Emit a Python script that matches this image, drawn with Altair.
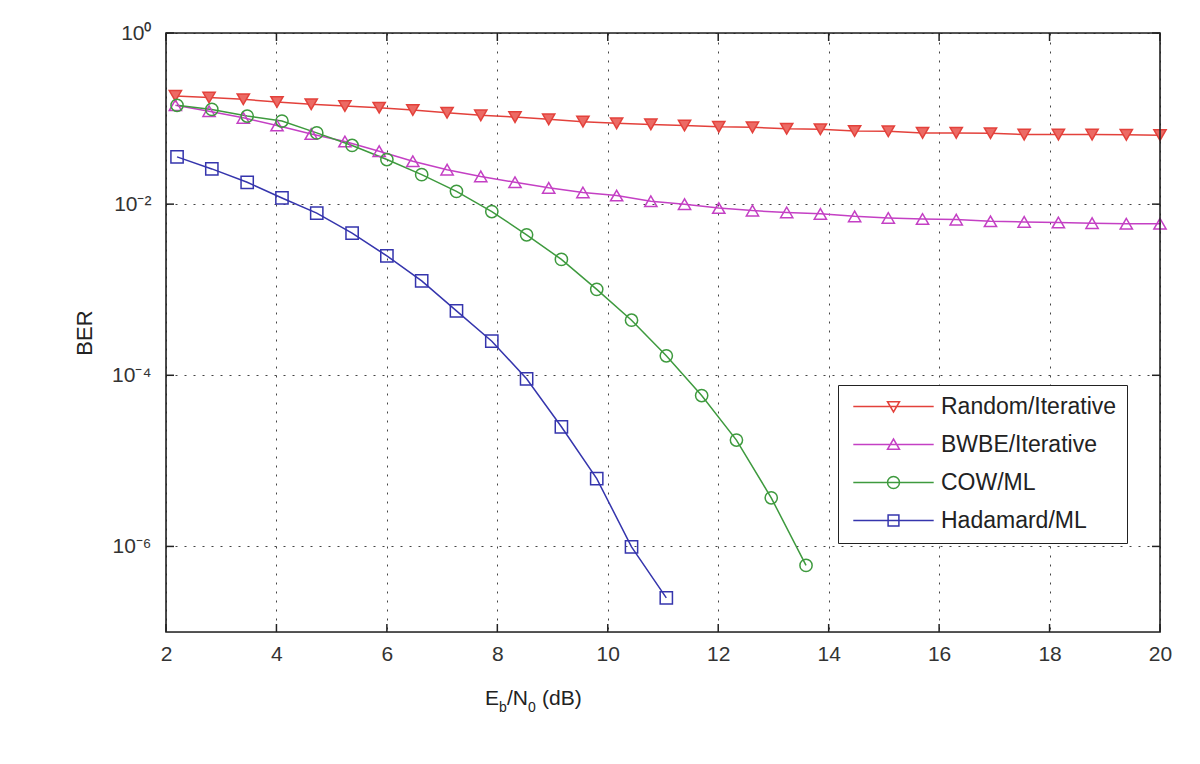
import altair as alt
import pandas as pd

# ---------------- data ----------------
series = ["Random/Iterative", "BWBE/Iterative", "COW/ML", "Hadamard/ML"]

x_iter = [2.17, 2.78, 3.40, 4.01, 4.63, 5.24, 5.86, 6.47, 7.09, 7.70,
          8.32, 8.93, 9.55, 10.16, 10.78, 11.39, 12.01, 12.62, 13.24, 13.85,
          14.47, 15.08, 15.70, 16.31, 16.93, 17.54, 18.16, 18.77, 19.39, 20.00]
random_iter = [0.184, 0.176, 0.168, 0.156, 0.147, 0.140, 0.134, 0.126, 0.117, 0.109,
               0.104, 0.098, 0.092, 0.088, 0.0855, 0.083, 0.080, 0.079, 0.076, 0.075,
               0.0715, 0.071, 0.068, 0.068, 0.0675, 0.065, 0.065, 0.065, 0.0645, 0.064]
bwbe_iter = [0.143, 0.122, 0.102, 0.083, 0.066, 0.054, 0.0416, 0.0317, 0.0253, 0.0211,
             0.0180, 0.0155, 0.0137, 0.0126, 0.0108, 0.0100, 0.0090, 0.0084, 0.0080, 0.0077,
             0.0072, 0.0069, 0.0067, 0.0066, 0.0063, 0.0062, 0.0061, 0.0060, 0.0059, 0.0059]

x_ml = [2.20, 2.83, 3.47, 4.10, 4.73, 5.37, 6.00, 6.63, 7.26, 7.90,
        8.53, 9.16, 9.80, 10.43, 11.06, 11.70, 12.33, 12.96, 13.59]
cow_ml = [0.143, 0.128, 0.107, 0.0935, 0.068, 0.0485, 0.0332, 0.0221, 0.0141, 0.0082,
          0.00438, 0.00226, 0.00101, 0.00044, 0.000169, 5.8e-5, 1.75e-5, 3.7e-6, 6.0e-7]
hadamard_ml = [0.0357, 0.0258, 0.0180, 0.0118, 0.00786, 0.00458, 0.00248, 0.00127,
               0.000565, 0.00025, 9.1e-5, 2.5e-5, 6.2e-6, 9.9e-7, 2.5e-7]

x_ticks = [2, 4, 6, 8, 10, 12, 14, 16, 18, 20]
y_ticks = [1, 1e-2, 1e-4, 1e-6]

# ---------------- styles ----------------
colors = ["#e3413b", "#c440c4", "#3e9a3e", "#3535ad"]
fills = ["#ec6a64", "transparent", "transparent", "transparent"]
shapes = ["triangle-down", "triangle-up", "circle", "square"]
legend_paths = [
    "M-6.7,0H6.7M-1,-0.8L1,-0.8L0,0.9Z",
    "M-6.7,0H6.7M-1,0.8L1,0.8L0,-0.9Z",
    "M-6.7,0H6.7M1,0A1,1,0,1,1,-1,0A1,1,0,1,1,1,0Z",
    "M-6.7,0H6.7M-0.9,-0.9H0.9V0.9H-0.9Z",
]
FONT = "Liberation Sans"
W, H = 994, 599

rows = []
for name, xs, ys in [(series[0], x_iter, random_iter), (series[1], x_iter, bwbe_iter),
                     (series[2], x_ml, cow_ml), (series[3], x_ml, hadamard_ml)]:
    for xv, yv in zip(xs, ys):
        rows.append({"series": name, "x": xv, "ber": yv})
df = pd.DataFrame(rows)

x_scale = alt.Scale(domain=[2, 20], nice=False, zero=False)
y_scale = alt.Scale(type="log", domain=[1e-7, 1], nice=False)

x_axis = alt.Axis(values=x_ticks, title=None, ticks=False, domain=False,
                  labelFont=FONT, labelFontSize=21, labelColor="#333",
                  labelPadding=11, grid=True, gridDash=[2, 7],
                  gridColor="#444", gridWidth=1, labelFlush=False)
y_axis = alt.Axis(values=y_ticks, title=None, ticks=False, domain=False,
                  labelFont=FONT, labelFontSize=21, labelColor="#333",
                  labelPadding=15, grid=True, gridDash=[2, 7],
                  gridColor="#444", gridWidth=1,
                  labelExpr="datum.value >= 0.5 ? '10⁰' : datum.value >= 0.005 ? '10⁻²' : datum.value >= 0.00005 ? '10⁻⁴' : '10⁻⁶'")

color_plot = alt.Color("series:N", scale=alt.Scale(domain=series, range=colors), legend=None)

base = alt.Chart(df)

lines = base.mark_line(strokeWidth=1.5).encode(
    x=alt.X("x:Q", scale=x_scale, axis=x_axis),
    y=alt.Y("ber:Q", scale=y_scale, axis=y_axis),
    color=color_plot, detail="series:N", order="x:Q")

points = base.mark_point(size=150, strokeWidth=1.5, opacity=1).encode(
    x=alt.X("x:Q", scale=x_scale, axis=x_axis),
    y=alt.Y("ber:Q", scale=y_scale, axis=y_axis),
    color=color_plot,
    fill=alt.Fill("series:N", scale=alt.Scale(domain=series, range=fills), legend=None),
    shape=alt.Shape("series:N", scale=alt.Scale(domain=series, range=shapes), legend=None))

leg = alt.Legend(orient="none", legendX=672, legendY=352, title=None,
                 labelFont=FONT, labelFontSize=23, labelColor="#222",
                 symbolSize=144, symbolStrokeWidth=1.5, symbolOffset=34,
                 labelOffset=36, rowPadding=14, padding=10,
                 strokeColor="#222", fillColor="white", symbolOpacity=1,
                 labelLimit=400, symbolFillColor="transparent")

legend_layer = base.mark_point(size=144, opacity=0, filled=False).encode(
    x=alt.X("x:Q", scale=x_scale, axis=x_axis),
    y=alt.Y("ber:Q", scale=y_scale, axis=y_axis),
    color=alt.Color("series:N", scale=alt.Scale(domain=series, range=colors), legend=leg),
    shape=alt.Shape("series:N", scale=alt.Scale(domain=series, range=legend_paths), legend=leg))

# MATLAB-style inward ticks, positioned by the axes' own scales
xt = pd.DataFrame({"x": x_ticks})
yt = pd.DataFrame({"ber": y_ticks})
tick_style = dict(color="#222", strokeWidth=1.5)
xticks_bottom = alt.Chart(xt).mark_rule(**tick_style).encode(
    x=alt.X("x:Q", scale=x_scale, axis=x_axis), y=alt.value(H), y2=alt.value(H - 8))
xticks_top = alt.Chart(xt).mark_rule(**tick_style).encode(
    x=alt.X("x:Q", scale=x_scale, axis=x_axis), y=alt.value(0), y2=alt.value(8))
yticks_left = alt.Chart(yt).mark_rule(**tick_style).encode(
    y=alt.Y("ber:Q", scale=y_scale, axis=y_axis), x=alt.value(0), x2=alt.value(8))
yticks_right = alt.Chart(yt).mark_rule(**tick_style).encode(
    y=alt.Y("ber:Q", scale=y_scale, axis=y_axis), x=alt.value(W), x2=alt.value(W - 8))

one = alt.InlineData(values=[{"k": 1}])

frame = alt.Chart(one).mark_rect(
    fill=None, stroke="#222", strokeWidth=1.6).encode(
    x=alt.value(0), x2=alt.value(W), y=alt.value(0), y2=alt.value(H))

def label(txt, x, y, size, angle=0, baseline="alphabetic", align="left"):
    return alt.Chart(one).mark_text(
        font=FONT, fontSize=size, color="#222", align=align, baseline=baseline,
        angle=angle).encode(x=alt.value(x), y=alt.value(y), text=alt.value(txt))

title_layers = [
    label("E", 319, 672, 21),
    label("b", 333, 679, 14),
    label("/N", 341, 672, 21),
    label("0", 362, 679, 14),
    label("(dB)", 376, 672, 21),
    label("BER", -81, 300, 22, angle=270, baseline="middle", align="center"),
]

chart = alt.layer(lines, points, legend_layer, xticks_bottom, xticks_top,
                  yticks_left, yticks_right, frame, *title_layers).resolve_scale(
    color="independent", shape="independent", fill="independent"
).properties(
    width=W, height=H,
    autosize=alt.AutoSizeParams(type="none"),
    padding={"left": 158, "top": 25, "right": 30, "bottom": 110},
).configure_view(stroke=None).configure(background="white")

chart.save("out.html", embed_options={"renderer": "svg", "actions": False})
